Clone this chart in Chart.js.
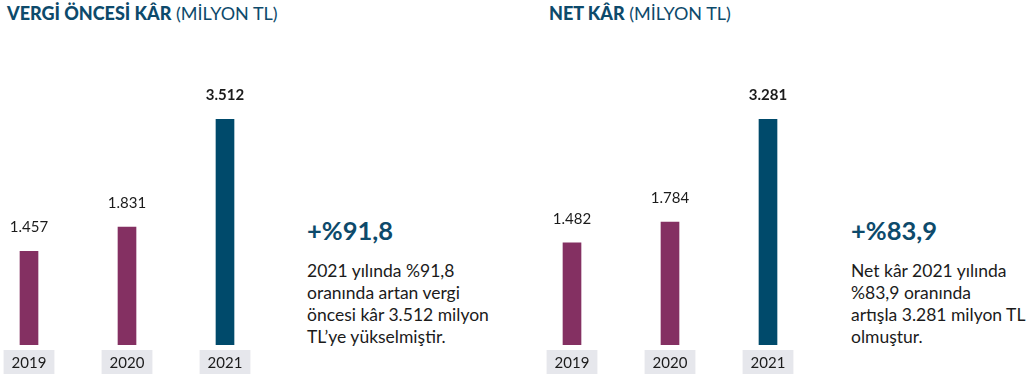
<!DOCTYPE html>
<html lang="tr">
<head>
<meta charset="utf-8">
<script src="https://cdn.jsdelivr.net/npm/chart.js@4.4.1/dist/chart.umd.min.js"></script>
<style>
  html, body {
    margin: 0;
    padding: 0;
    background: #ffffff;
    width: 1033px;
    height: 378px;
    overflow: hidden;
    font-family: Lato, "Noto Sans", sans-serif;
  }
  .title {
    position: absolute;
    top: 4px;
    font-size: 18px;
    line-height: 18px;
    color: #0d4a6b;
    white-space: nowrap;
  }
  .title b { font-weight: 900; }
  .chart-box {
    position: absolute;
    top: 70px;
    width: 294px;
    height: 315px;
  }
  .note {
    position: absolute;
    top: 218px;
    color: #1b1b1b;
  }
  .note .big {
    font-size: 25.5px;
    font-weight: 700;
    color: #0d4a6b;
    line-height: 25px;
    margin-bottom: 17px;
  }
  .note .text {
    font-size: 17.5px;
    line-height: 22px;
  }
</style>
</head>
<body>
  <div class="title" style="left:7px"><b>VERGİ ÖNCESİ KÂR</b> (MİLYON TL)</div>
  <div class="title" style="left:549px"><b>NET KÂR</b> (MİLYON TL)</div>

  <div class="chart-box" style="left:-20px"><canvas id="pretaxChart"></canvas></div>
  <div class="chart-box" style="left:523px"><canvas id="netChart"></canvas></div>

  <div class="note" style="left:307px">
    <div class="big">+%91,8</div>
    <div class="text">2021 yılında %91,8<br>oranında artan vergi<br>öncesi kâr 3.512 milyon<br>TL’ye yükselmiştir.</div>
  </div>
  <div class="note" style="left:851px">
    <div class="big">+%83,9</div>
    <div class="text">Net kâr 2021 yılında<br>%83,9 oranında<br>artışla 3.281 milyon TL<br>olmuştur.</div>
  </div>

<script>
  const years = ["2019", "2020", "2021"];
  const pretaxProfit = [1457, 1831, 3512];
  const netProfit = [1482, 1784, 3281];
  const barColors = ["#843062", "#843062", "#004a6b"];

  const formatTr = (value) => String(value).replace(/\B(?=(\d{3})+(?!\d))/g, ".");

  const valueLabels = {
    id: "valueLabels",
    afterDatasetsDraw(chart) {
      const ctx = chart.ctx;
      const meta = chart.getDatasetMeta(0);
      const values = chart.data.datasets[0].data;
      ctx.save();
      ctx.textAlign = "center";
      ctx.textBaseline = "middle";
      ctx.fillStyle = "#1b1b1b";
      meta.data.forEach((bar, i) => {
        const last = i === values.length - 1;
        ctx.font = (last ? "bold " : "") + "15px Lato, 'Noto Sans', sans-serif";
        ctx.fillText(formatTr(values[i]), bar.x, bar.y - 24);
      });
      ctx.restore();
    },
  };

  const buildChart = (canvasId, values) =>
    new Chart(document.getElementById(canvasId), {
      type: "bar",
      data: {
        labels: years,
        datasets: [
          {
            data: values,
            backgroundColor: barColors,
            barThickness: 18,
            borderWidth: 0,
          },
        ],
      },
      options: {
        responsive: true,
        maintainAspectRatio: false,
        animation: false,
        events: [],
        layout: {
          padding: { top: 49, bottom: 4, left: 0, right: 0 },
        },
        scales: {
          x: {
            offset: true,
            border: { display: false },
            grid: { display: false, drawTicks: false },
            ticks: {
              padding: 9,
              color: "#1b1b1b",
              font: { family: "Lato, 'Noto Sans', sans-serif", size: 15 },
              showLabelBackdrop: true,
              backdropColor: "#e6e7ec",
              backdropPadding: { top: 4, bottom: 2, left: 8, right: 8 },
            },
          },
          y: {
            display: false,
            min: 0,
            max: Math.max(...values),
          },
        },
        plugins: {
          legend: { display: false },
          tooltip: { enabled: false },
        },
      },
      plugins: [valueLabels],
    });

  buildChart("pretaxChart", pretaxProfit);
  buildChart("netChart", netProfit);
</script>
</body>
</html>
